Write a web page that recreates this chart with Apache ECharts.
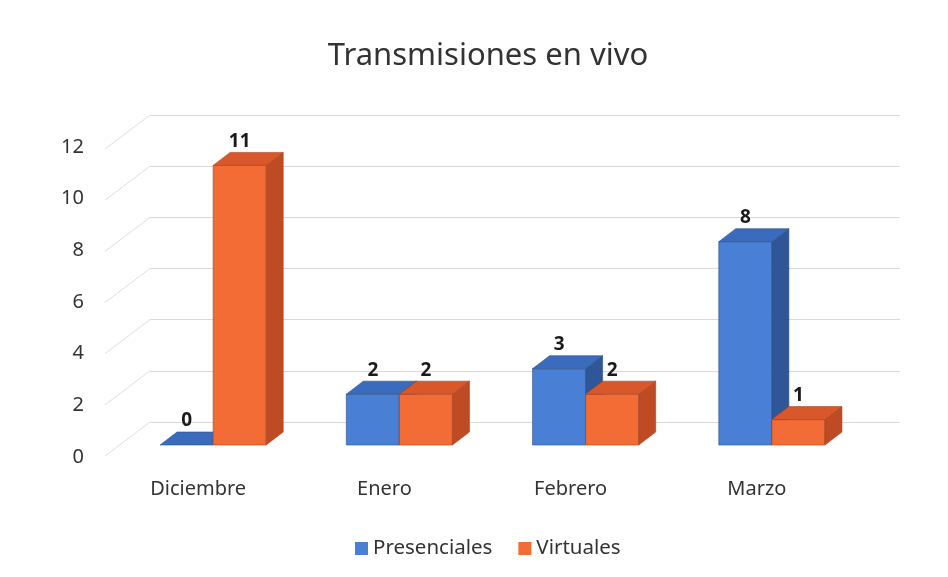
<!DOCTYPE html>
<html>
<head>
<meta charset="utf-8">
<script src="https://cdn.jsdelivr.net/npm/echarts@6/dist/echarts.min.js"></script>
<style>
  html, body { margin: 0; padding: 0; background: #fff; }
  #main { width: 948px; height: 577px; }
</style>
</head>
<body>
<div id="main"></div>
<script>
  // datos de la gráfica
  var meses = ['Diciembre', 'Enero', 'Febrero', 'Marzo'];
  var presenciales = [0, 2, 3, 8];
  var virtuales = [11, 2, 2, 1];
  var ticks = [0, 2, 4, 6, 8, 10, 12];

  var FONT = 'Noto Sans';
  var DX = 17, DY = 13;       // profundidad de las barras
  var WALL_DX = 45, WALL_DY = 34; // desplazamiento pared del fondo -> plano frontal

  var azul = { front: '#4a7fd6', top: '#3b6bbd', side: '#2f5797', stroke: '#2c4f86' };
  var naranja = { front: '#f36b35', top: '#d9582b', side: '#bf4b25', stroke: '#a8431f' };

  function barRender(lado, c) {
    return function (params, api) {
      var idx = api.value(0), v = api.value(1);
      var top = api.coord([idx, v]);
      var base = api.coord([idx, 0]);
      var w = api.size([1, 0])[0] * 0.285;
      var x0 = lado < 0 ? top[0] - w : top[0];
      var ty = top[1], by = base[1];
      var children = [];
      if (by - ty > 0.5) {
        children.push({
          type: 'rect',
          shape: { x: x0, y: ty, width: w, height: by - ty },
          style: { fill: c.front, stroke: c.stroke, lineWidth: 0.6 }
        });
        children.push({
          type: 'polygon',
          shape: { points: [[x0 + w, ty], [x0 + w + DX, ty - DY], [x0 + w + DX, by - DY], [x0 + w, by]] },
          style: { fill: c.side, stroke: c.stroke, lineWidth: 0.6 }
        });
      }
      children.push({
        type: 'polygon',
        shape: { points: [[x0, ty], [x0 + w, ty], [x0 + w + DX, ty - DY], [x0 + DX, ty - DY]] },
        style: { fill: c.top, stroke: c.stroke, lineWidth: 0.6 }
      });
      children.push({
        type: 'text',
        style: {
          x: x0 + w / 2, y: ty - DY - 11,
          text: String(v), align: 'center', verticalAlign: 'middle',
          fill: '#1a1a1a', font: 'bold 19px "' + FONT + '"'
        }
      });
      return { type: 'group', children: children };
    };
  }

  var myChart = echarts.init(document.getElementById('main'));
  var option = {
    backgroundColor: '#fff',
    animation: false,
    title: {
      text: 'Transmisiones en vivo',
      left: 483,
      textAlign: 'center',
      top: 36,
      textStyle: { fontFamily: FONT, fontSize: 31, fontWeight: 'normal', color: '#333' }
    },
    legend: {
      data: ['Presenciales', 'Virtuales'],
      left: 350,
      top: 533,
      icon: 'rect',
      itemWidth: 13,
      itemHeight: 13,
      itemGap: 26,
      textStyle: { fontFamily: FONT, fontSize: 20.5, color: '#333' }
    },
    grid: [
      { left: 150, right: 48, top: 115, height: 307 },   // pared del fondo
      { left: 105, width: 745, top: 147, height: 310 },   // plano frontal (etiquetas)
      { left: 120, width: 745, top: 140, height: 305 }    // plano de las barras
    ],
    xAxis: [
      { gridIndex: 0, type: 'value', min: 0, max: 1, show: false },
      {
        gridIndex: 1, type: 'category', data: meses,
        axisLine: { show: false }, axisTick: { show: false },
        axisLabel: { margin: 22, fontFamily: FONT, fontSize: 20, color: '#333' }
      },
      { gridIndex: 2, type: 'category', data: meses, show: false }
    ],
    yAxis: [
      {
        gridIndex: 0, type: 'value', min: 0, max: 12, interval: 2,
        axisLine: { show: false }, axisTick: { show: false }, axisLabel: { show: false },
        splitLine: { show: true, lineStyle: { color: '#dadada', width: 1 } }
      },
      {
        gridIndex: 1, type: 'value', min: 0, max: 12, interval: 2,
        axisLine: { show: false }, axisTick: { show: false },
        splitLine: { show: false },
        axisLabel: { margin: 21, fontFamily: FONT, fontSize: 20, color: '#333' }
      },
      { gridIndex: 2, type: 'value', min: 0, max: 12, show: false, splitLine: { show: false } }
    ],
    series: [
      {
        name: 'diagonales',
        type: 'custom',
        xAxisIndex: 0, yAxisIndex: 0,
        silent: true,
        data: ticks.map(function (t) { return [0, t]; }),
        renderItem: function (params, api) {
          var p = api.coord([0, api.value(1)]);
          return {
            type: 'line',
            shape: { x1: p[0], y1: p[1], x2: p[0] - WALL_DX, y2: p[1] + WALL_DY },
            style: { stroke: '#e0e0e0', lineWidth: 1 }
          };
        }
      },
      {
        name: 'Presenciales',
        type: 'custom',
        xAxisIndex: 2, yAxisIndex: 2,
        itemStyle: { color: azul.front },
        data: presenciales.map(function (v, i) { return [i, v]; }),
        renderItem: barRender(-1, azul)
      },
      {
        name: 'Virtuales',
        type: 'custom',
        xAxisIndex: 2, yAxisIndex: 2,
        itemStyle: { color: naranja.front },
        data: virtuales.map(function (v, i) { return [i, v]; }),
        renderItem: barRender(1, naranja)
      }
    ]
  };
  myChart.setOption(option);
</script>
</body>
</html>
